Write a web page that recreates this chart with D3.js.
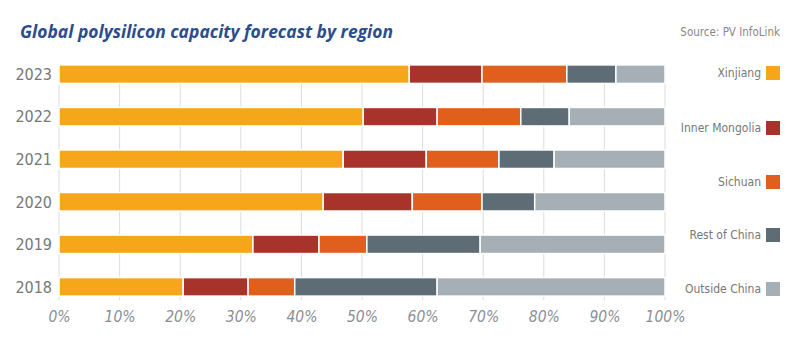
<!DOCTYPE html>
<html>
<head>
<meta charset="utf-8">
<script src="https://cdn.jsdelivr.net/npm/d3@7"></script>
<style>
  body { margin: 0; background: #fff; }
  text { font-family: "Liberation Sans Narrow", "DejaVu Sans Condensed", "Open Sans", sans-serif; }
</style>
</head>
<body>
<div id="chart"></div>
<script>
// data (shares in %)
var years = ["2023", "2022", "2021", "2020", "2019", "2018"];
var regions = ["Xinjiang", "Inner Mongolia", "Sichuan", "Rest of China", "Outside China"];
var xinjiang      = [57.8, 50.2, 46.9, 43.6, 32.0, 20.5];
var innerMongolia = [12.0, 12.2, 13.7, 14.7, 10.9, 10.7];
var sichuan       = [14.0, 13.8, 12.0, 11.5,  7.9,  7.7];
var restOfChina   = [ 8.1,  8.0,  9.1,  8.7, 18.7, 23.5];
var outsideChina  = [ 8.1, 15.8, 18.3, 21.5, 30.5, 37.6];
var xTicks = [0, 10, 20, 30, 40, 50, 60, 70, 80, 90, 100];
var colors = ["#f5a619", "#a8332a", "#e05f1d", "#5e6c75", "#a7afb6"];

var width = 800, height = 353;
var margin = {top: 60, right: 135, bottom: 52, left: 59};

var svg = d3.select("#chart")
  .append("svg")
    .attr("width", width)
    .attr("height", height);

// build rows for the stack
var series = [xinjiang, innerMongolia, sichuan, restOfChina, outsideChina];
var rows = years.map(function(y, i) {
  var r = {year: y};
  regions.forEach(function(k, j) { r[k] = series[j][i]; });
  return r;
});
var stacked = d3.stack().keys(regions)(rows);

var x = d3.scaleLinear()
  .domain([0, 100])
  .range([margin.left, 665]);

var y = d3.scaleBand()
  .domain(years)
  .range([53, 308])
  .paddingInner(0.565)
  .paddingOuter(0.28);

// gridlines
svg.append("g")
  .selectAll("line")
  .data(xTicks)
  .enter()
  .append("line")
    .attr("x1", function(d) { return x(d); })
    .attr("x2", function(d) { return x(d); })
    .attr("y1", y("2023"))
    .attr("y2", y("2018") + y.bandwidth() + 4)
    .attr("stroke", "#dcdcdc")
    .attr("stroke-width", 1);

// bars
svg.append("g")
  .selectAll("g")
  .data(stacked)
  .enter()
  .append("g")
    .attr("fill", function(d, i) { return colors[i]; })
  .selectAll("rect")
  .data(function(d) { return d; })
  .enter()
  .append("rect")
    .attr("x", function(d) { return x(d[0]); })
    .attr("y", function(d) { return y(d.data.year); })
    .attr("width", function(d) { return x(d[1]) - x(d[0]); })
    .attr("height", y.bandwidth())
    .attr("stroke", "#fff")
    .attr("stroke-width", 1.5);

// y axis labels
var yAxis = svg.append("g")
  .attr("transform", "translate(" + (margin.left - 7) + ",0)")
  .call(d3.axisLeft(y).tickSize(0).tickPadding(0));
yAxis.select(".domain").remove();
yAxis.selectAll("text")
  .attr("fill", "#777")
  .style("font-size", "16px")
  .attr("dy", "0.36em");

// x axis labels
var xAxis = svg.append("g")
  .attr("transform", "translate(0,306)")
  .call(d3.axisBottom(x).tickValues(xTicks).tickSize(0).tickPadding(0)
    .tickFormat(function(d) { return d + "%"; }));
xAxis.select(".domain").remove();
xAxis.selectAll("text")
  .attr("fill", "#8a8f94")
  .style("font-size", "15.5px")
  .style("font-style", "italic")
  .attr("dy", "1em");

// title
svg.append("text")
  .attr("x", 20)
  .attr("y", 38)
  .attr("textLength", 373)
  .attr("lengthAdjust", "spacingAndGlyphs")
  .attr("fill", "#2b4d8c")
  .style("font-family", "'Open Sans', sans-serif")
  .style("font-size", "18px")
  .style("font-weight", "bold")
  .style("font-style", "italic")
  .text("Global polysilicon capacity forecast by region");

svg.append("text")
  .attr("x", 780)
  .attr("y", 36)
  .attr("text-anchor", "end")
  .attr("fill", "#888")
  .style("font-size", "11.5px")
  .text("Source: PV InfoLink");

// legend
var legendY = [73, 128, 182, 235, 289];
var legend = svg.append("g")
  .selectAll("g")
  .data(regions)
  .enter()
  .append("g")
    .attr("transform", function(d, i) { return "translate(0," + legendY[i] + ")"; });
legend.append("rect")
  .attr("x", 766)
  .attr("y", -7)
  .attr("width", 14)
  .attr("height", 14)
  .attr("fill", function(d, i) { return colors[i]; });
legend.append("text")
  .attr("x", 761)
  .attr("y", 0)
  .attr("dy", "0.35em")
  .attr("text-anchor", "end")
  .attr("fill", "#777")
  .style("font-size", "12px")
  .text(function(d) { return d; });
</script>
</body>
</html>
